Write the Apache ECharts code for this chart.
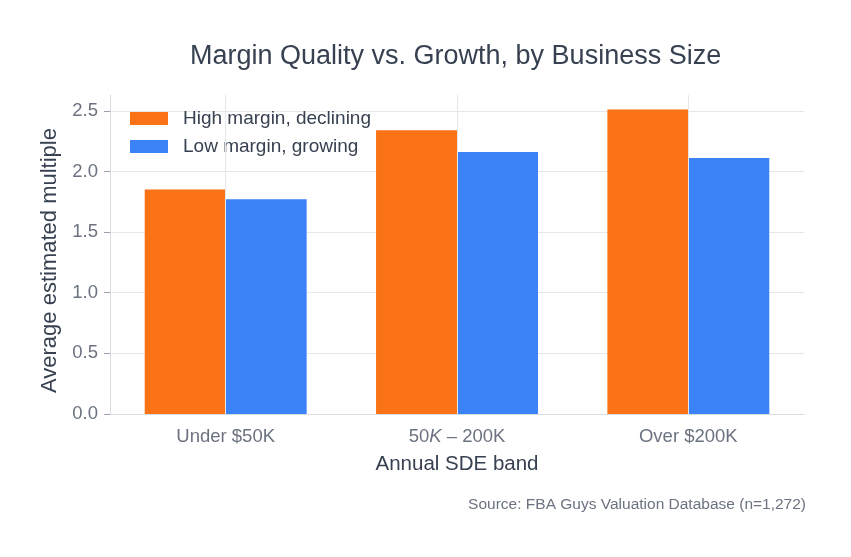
<!DOCTYPE html>
<html>
<head>
<meta charset="utf-8">
<script src="https://cdn.jsdelivr.net/npm/echarts@6/dist/echarts.min.js"></script>
<style>
  html, body { margin: 0; padding: 0; background: #fff; }
  #chart { width: 851px; height: 557px; }
</style>
</head>
<body>
<div id="chart"></div>
<script>
// data
const categories = ['Under $50K', '50K – 200K', 'Over $200K']
const highMarginDeclining = [1.85, 2.34, 2.51]
const lowMarginGrowing = [1.77, 2.16, 2.11]
const yTicks = [0, 0.5, 1.0, 1.5, 2.0, 2.5]

const FONT = '"Liberation Sans", Arial, sans-serif'
const DARK = '#374151'
const GREY = '#6b7280'
const GRID = '#e5e7eb'

const chart = echarts.init(document.getElementById('chart'))
chart.setOption({
  backgroundColor: '#fff',
  textStyle: { fontFamily: FONT },
  title: [{
    text: 'Margin Quality vs. Growth, by Business Size',
    left: 185,
    top: 38,
    textStyle: { fontFamily: FONT, fontSize: 27, fontWeight: 'normal', color: DARK }
  }, {
    text: 'Source: FBA Guys Valuation Database (n=1,272)',
    right: 40,
    top: 492,
    textStyle: { fontFamily: FONT, fontSize: 15.5, fontWeight: 'normal', color: GREY }
  }],
  legend: {
    left: 125,
    top: 104,
    orient: 'vertical',
    icon: 'rect',
    itemWidth: 38,
    itemHeight: 13,
    itemGap: 9,
    textStyle: { fontFamily: FONT, fontSize: 19, color: DARK, padding: [0, 0, 0, 10] },
    data: ['High margin, declining', 'Low margin, growing']
  },
  grid: { left: 110, width: 694, top: 95, bottom: 143 },
  xAxis: {
    type: 'category',
    data: categories,
    name: 'Annual SDE band',
    nameLocation: 'middle',
    nameGap: 40,
    nameTextStyle: { fontFamily: FONT, fontSize: 20.5, color: DARK },
    axisLine: { lineStyle: { color: '#d8dbe0', width: 1 } },
    axisTick: { alignWithLabel: true, length: 5, lineStyle: { color: '#9ca3af' } },
    axisLabel: {
      fontFamily: FONT, fontSize: 18.5, color: GREY, margin: 13,
      formatter: function (v) {
        if (v === categories[1]) return '50{i|K} – 200K'
        return v
      },
      rich: { i: { fontFamily: FONT, fontSize: 18.5, color: GREY, fontStyle: 'italic' } }
    },
    splitLine: { show: false }
  },
  yAxis: {
    type: 'value',
    min: 0,
    max: 2.63,
    interval: 0.5,
    name: 'Average estimated multiple',
    nameLocation: 'middle',
    nameGap: 44,
    nameTextStyle: { fontFamily: FONT, fontSize: 22, color: DARK, padding: [0, 12, 0, 0] },
    axisLine: { show: true, lineStyle: { color: '#d8dbe0', width: 1 } },
    axisTick: { show: true, length: 6, lineStyle: { color: '#9ca3af' } },
    axisLabel: {
      fontFamily: FONT, fontSize: 18.5, color: GREY, margin: 12, showMaxLabel: false,
      formatter: function (v) { return yTicks.indexOf(v) >= 0 ? v.toFixed(1) : '' }
    },
    splitLine: { show: true, showMaxLine: false, lineStyle: { color: GRID, width: 1 } }
  },
  series: [{
    name: 'High margin, declining',
    type: 'bar',
    data: highMarginDeclining,
    itemStyle: { color: '#f97316' },
    barGap: '0%',
    barCategoryGap: '30%',
    z: 3
  }, {
    name: 'Low margin, growing',
    type: 'bar',
    data: lowMarginGrowing,
    itemStyle: { color: '#3b82f6' },
    barGap: '0%',
    barCategoryGap: '30%',
    z: 3
  }, {
    // vertical gridlines through the category centres
    name: 'vgrid',
    type: 'line',
    data: [],
    silent: true,
    z: 1,
    markLine: {
      silent: true,
      symbol: 'none',
      label: { show: false },
      lineStyle: { color: GRID, type: 'solid', width: 1 },
      data: categories.map(c => ({ xAxis: c }))
    }
  }]
})
</script>
</body>
</html>
